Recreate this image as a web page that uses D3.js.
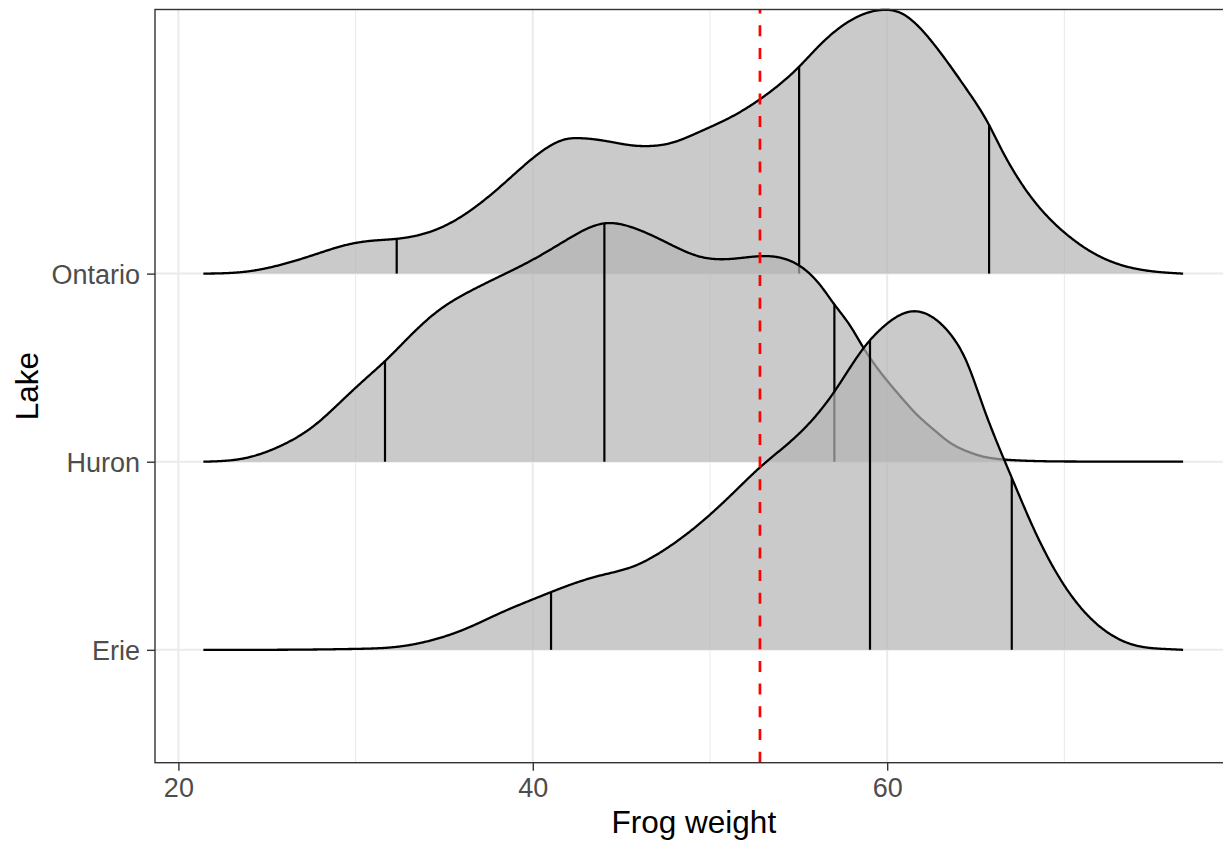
<!DOCTYPE html>
<html><head><meta charset="utf-8">
<script src="https://cdn.jsdelivr.net/npm/d3@7"></script>
<style>
body{margin:0;background:#fff}
text{font-family:"Liberation Sans",Arial,Helvetica,sans-serif}
</style>
</head><body>
<svg id="chart" width="1223" height="842"></svg>
<script>
// ---- data ----
const lakes = ["Erie", "Huron", "Ontario"];

const ontarioWeight  = [21.41, 23.86, 25.74, 27.62, 29.50, 30.63, 32.32, 34.60, 36.29, 38.15, 40.02, 41.94, 42.67, 44.36, 45.66, 46.45, 47.75, 49.44, 51.30, 53.22, 55.03, 56.21, 56.94, 58.86, 59.75, 60.73, 62.59, 64.51, 65.75, 66.37, 68.24, 70.16, 72.02, 73.88, 75.80, 76.70];
const ontarioDensity = [0, 0.011, 0.046, 0.099, 0.153, 0.172, 0.185, 0.236, 0.323, 0.461, 0.615, 0.716, 0.720, 0.701, 0.681, 0.678, 0.693, 0.755, 0.838, 0.954, 1.100, 1.216, 1.279, 1.386, 1.402, 1.387, 1.225, 0.976, 0.790, 0.675, 0.392, 0.206, 0.090, 0.029, 0.005, 0];

const huronWeight  = [21.41, 23.86, 25.74, 27.62, 29.50, 30.63, 31.66, 33.26, 34.77, 36.29, 38.15, 40.02, 41.94, 44.04, 45.66, 47.58, 49.44, 51.30, 53.22, 55.08, 56.21, 57.02, 57.90, 58.66, 59.79, 60.73, 61.67, 62.61, 63.55, 64.49, 65.43, 66.56, 68.63, 72.02, 76.70];
const huronDensity = [0, 0.021, 0.083, 0.189, 0.349, 0.447, 0.535, 0.686, 0.810, 0.898, 0.986, 1.075, 1.181, 1.267, 1.244, 1.164, 1.090, 1.079, 1.093, 1.040, 0.940, 0.836, 0.724, 0.606, 0.455, 0.349, 0.251, 0.172, 0.101, 0.056, 0.027, 0.012, 0.003, 0.001, 0];

const erieWeight  = [21.41, 24.00, 26.87, 30.02, 32.51, 34.37, 36.29, 38.15, 40.02, 41.03, 41.94, 43.80, 45.66, 47.58, 49.44, 51.30, 52.82, 55.08, 57.02, 58.66, 59.79, 60.73, 61.29, 62.61, 63.55, 64.49, 65.43, 66.56, 67.03, 68.24, 70.16, 72.02, 73.88, 75.80, 76.70];
const erieDensity = [0, 0, 0.001, 0.005, 0.018, 0.053, 0.115, 0.195, 0.269, 0.307, 0.340, 0.395, 0.443, 0.541, 0.673, 0.833, 0.970, 1.154, 1.373, 1.603, 1.718, 1.780, 1.798, 1.765, 1.680, 1.530, 1.290, 1.020, 0.915, 0.650, 0.319, 0.122, 0.027, 0.004, 0];

const ontarioQuantiles = [32.32, 55.03, 65.75];
const huronQuantiles   = [31.66, 44.04, 57.02];
const erieQuantiles    = [41.03, 59.03, 67.03];

const referenceWeight = 52.82;
const xTicks = [20, 40, 60];
const xMinorTicks = [30, 50, 70];
const xTitle = "Frog weight";
const yTitle = "Lake";

// natural cubic spline through the read points, in data space (x = weight)
function naturalSpline(xs, ys) {
  const n = xs.length;
  const h = [], M = new Array(n).fill(0);
  for (let i = 0; i < n - 1; i++) h.push(xs[i + 1] - xs[i]);
  const a = [], b = [], c = [], r = [];
  for (let i = 1; i < n - 1; i++) {
    a.push(h[i - 1]); b.push(2 * (h[i - 1] + h[i])); c.push(h[i]);
    r.push(6 * ((ys[i + 1] - ys[i]) / h[i] - (ys[i] - ys[i - 1]) / h[i - 1]));
  }
  const m = b.length;
  for (let i = 1; i < m; i++) {
    const w = a[i] / b[i - 1];
    b[i] -= w * c[i - 1]; r[i] -= w * r[i - 1];
  }
  const sol = new Array(m);
  for (let i = m - 1; i >= 0; i--) sol[i] = (r[i] - (i < m - 1 ? c[i] * sol[i + 1] : 0)) / b[i];
  for (let i = 0; i < m; i++) M[i + 1] = sol[i];
  return v => {
    let i = d3.bisectRight(xs, v) - 1;
    i = Math.max(0, Math.min(n - 2, i));
    const hi = h[i], A = xs[i + 1] - v, B = v - xs[i];
    const s = M[i] * A * A * A / (6 * hi) + M[i + 1] * B * B * B / (6 * hi)
      + (ys[i] / hi - M[i] * hi / 6) * A + (ys[i + 1] / hi - M[i + 1] * hi / 6) * B;
    return Math.max(0, s);
  };
}

// ---- build series ----
const series = [
  {lake: "Ontario", w: ontarioWeight, d: ontarioDensity, q: ontarioQuantiles},
  {lake: "Huron",   w: huronWeight,   d: huronDensity,   q: huronQuantiles},
  {lake: "Erie",    w: erieWeight,    d: erieDensity,    q: erieQuantiles}
];

// ---- layout ----
const svg = d3.select("#chart");
const W = 1223, H = 842;
svg.append("rect").attr("width", W).attr("height", H).attr("fill", "#fff");

const panel = {left: 155, top: 9.5, bottom: 762.7};
const x = d3.scaleLinear().domain([18.68, 79.5]).range([panel.left, panel.left + 60.82 * 17.72]);
const y = d3.scaleLinear().domain([0.4, 4.404]).range([panel.bottom, panel.top]);
const lakePos = d => lakes.indexOf(d) + 1;
const panelRight = x.range()[1];

const g = svg.append("g");

// gridlines
g.selectAll(".minor").data(xMinorTicks).join("line")
  .attr("x1", d => x(d)).attr("x2", d => x(d))
  .attr("y1", panel.top).attr("y2", panel.bottom)
  .attr("stroke", "#ebebeb").attr("stroke-width", 1.1);
g.selectAll(".majorx").data(xTicks).join("line")
  .attr("x1", d => x(d)).attr("x2", d => x(d))
  .attr("y1", panel.top).attr("y2", panel.bottom)
  .attr("stroke", "#ebebeb").attr("stroke-width", 2);
g.selectAll(".majory").data(lakes).join("line")
  .attr("x1", panel.left).attr("x2", panelRight)
  .attr("y1", d => y(lakePos(d))).attr("y2", d => y(lakePos(d)))
  .attr("stroke", "#ebebeb").attr("stroke-width", 2);

// ridges (top first so lower ones overlay)
series.forEach(s => {
  const base = lakePos(s.lake);
  const f = naturalSpline(s.w, s.d);
  const x0 = s.w[0], x1 = s.w[s.w.length - 1];
  const samples = d3.range(x0, x1, 0.05).concat([x1]);
  const pts = samples.map(w => [w, f(w)]);
  const area = d3.area().x(p => x(p[0])).y0(y(base)).y1(p => y(base + p[1]));
  const line = d3.line().x(p => x(p[0])).y(p => y(base + p[1]));
  const rg = g.append("g");
  rg.append("path").attr("d", area(pts))
    .attr("fill", "#b3b3b3").attr("fill-opacity", 0.7).attr("stroke", "none");
  rg.selectAll(".q").data(s.q).join("line")
    .attr("x1", d => x(d)).attr("x2", d => x(d))
    .attr("y1", y(base)).attr("y2", d => y(base + f(d)))
    .attr("stroke", "#000").attr("stroke-width", 2.2);
  rg.append("path").attr("d", line(pts))
    .attr("fill", "none").attr("stroke", "#000").attr("stroke-width", 2.3)
    .attr("stroke-linejoin", "round");
});

// reference line
g.append("line")
  .attr("x1", x(referenceWeight)).attr("x2", x(referenceWeight))
  .attr("y1", panel.bottom).attr("y2", panel.top)
  .attr("stroke", "#ff0000").attr("stroke-width", 2.7)
  .attr("stroke-dasharray", "11 11.7");

// panel border
g.append("rect")
  .attr("x", panel.left).attr("y", panel.top)
  .attr("width", panelRight - panel.left).attr("height", panel.bottom - panel.top)
  .attr("fill", "none").attr("stroke", "#333333").attr("stroke-width", 1.4);

// axes
const xAxis = d3.axisBottom(x).tickValues(xTicks).tickSize(8).tickPadding(6).tickFormat(d3.format("d"));
const xa = svg.append("g").attr("transform", `translate(0,${panel.bottom})`).call(xAxis);
xa.select(".domain").remove();
xa.selectAll(".tick line").attr("stroke", "#333333").attr("stroke-width", 1.4);
xa.selectAll(".tick text").attr("fill", "#4d4d4d").attr("font-size", 27)
  .attr("font-family", "Liberation Sans, Arial, sans-serif").attr("dy", null).attr("y", 34);

const yAxis = d3.axisLeft(y).tickValues(lakes.map(lakePos)).tickSize(8).tickPadding(7)
  .tickFormat(v => lakes[v - 1]);
const ya = svg.append("g").attr("transform", `translate(${panel.left},0)`).call(yAxis);
ya.select(".domain").remove();
ya.selectAll(".tick line").attr("stroke", "#333333").attr("stroke-width", 1.4);
ya.selectAll(".tick text").attr("fill", "#4d4d4d").attr("font-size", 27)
  .attr("font-family", "Liberation Sans, Arial, sans-serif").attr("dy", "0.35em");

// titles
svg.append("text").attr("x", (panel.left + panelRight) / 2).attr("y", 833)
  .attr("text-anchor", "middle").attr("font-size", 31.5).attr("fill", "#000").text(xTitle);
svg.append("text").attr("transform", `translate(38,${(panel.top + panel.bottom) / 2}) rotate(-90)`)
  .attr("text-anchor", "middle").attr("font-size", 31.5).attr("fill", "#000").text(yTitle);
</script>
</body></html>
